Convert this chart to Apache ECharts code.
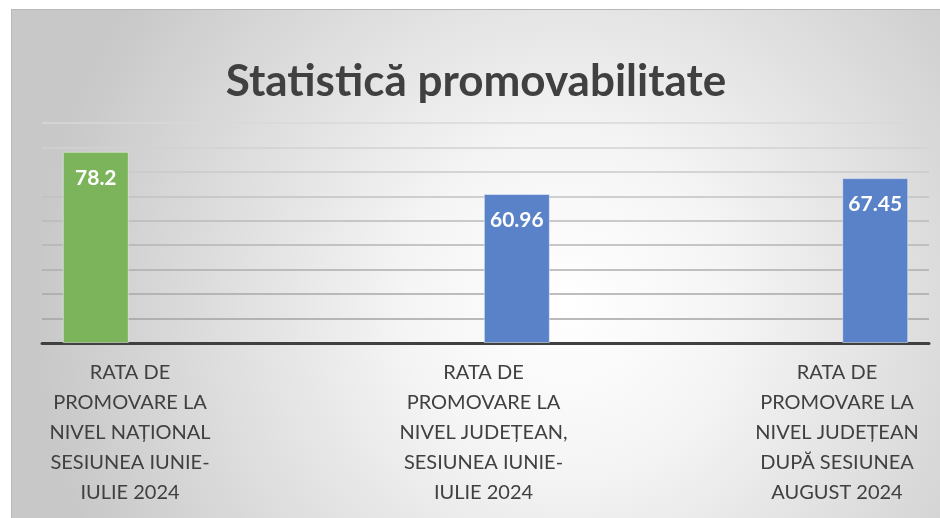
<!DOCTYPE html>
<html>
<head>
<meta charset="utf-8">
<script src="https://cdn.jsdelivr.net/npm/echarts@6/dist/echarts.min.js"></script>
<style>
  html, body { margin: 0; padding: 0; background: #ffffff; }
  .frame {
    position: absolute;
    left: 11px;
    top: 9px;
    border-top: 1px solid #b8b8b8;
    border-left: 1px solid #b8b8b8;
  }
  #chart { width: 928px; height: 508px; }
</style>
</head>
<body>
<div class="frame"><div id="chart"></div></div>
<script>
// category labels (line breaks as wrapped in the original)
const categories = [
  'RATA DE\nPROMOVARE LA\nNIVEL NAȚIONAL\nSESIUNEA IUNIE-\nIULIE 2024',
  'RATA DE\nPROMOVARE LA\nNIVEL JUDEȚEAN,\nSESIUNEA IUNIE-\nIULIE 2024',
  'RATA DE\nPROMOVARE LA\nNIVEL JUDEȚEAN\nDUPĂ SESIUNEA\nAUGUST 2024'
]
// promovabilitate (%)
const values = [78.2, 60.96, 67.45]
// column of the cluster each bar sits in (source sheet had an empty column)
const clusterSlot = [0, 2, 3]
const barColors = ['#7cb45c', '#5a82c8', '#5a82c8']

const myChart = echarts.init(document.getElementById('chart'))

const series = [0, 1, 2, 3].map((slot) => {
  return {
    type: 'bar',
    xAxisIndex: 0,
    yAxisIndex: 0,
    barWidth: 66,
    barGap: '-5%',
    itemStyle: { borderColor: 'rgba(255,255,255,0.45)', borderWidth: 1 },
    label: {
      show: true,
      position: 'insideTop',
      distance: 16,
      color: '#ffffff',
      fontFamily: 'Lato',
      fontWeight: 'bold',
      fontSize: 21
    },
    data: categories.map((c, i) => {
      if (clusterSlot[i] !== slot) return '-'
      return { value: values[i], itemStyle: { color: barColors[i] } }
    })
  }
})

const option = {
  backgroundColor: {
    type: 'radial',
    x: 0.6,
    y: 0.58,
    r: 1.05,
    colorStops: [
      { offset: 0, color: '#ffffff' },
      { offset: 0.3, color: '#f5f5f5' },
      { offset: 1, color: '#c8c8c8' }
    ]
  },
  animation: false,
  title: {
    text: 'Statistică promovabilitate',
    left: 'center',
    top: 45,
    textStyle: {
      fontFamily: 'Lato',
      fontWeight: 'bold',
      fontSize: 44,
      color: '#404040'
    }
  },
  grid: [
    { left: 30, right: 11, top: 113, bottom: 175 },
    { left: 118, right: 103, top: 113, bottom: 175 }
  ],
  xAxis: [
    {
      type: 'category',
      gridIndex: 0,
      data: categories,
      axisLine: { lineStyle: { color: '#404040', width: 3 } },
      axisTick: { show: false },
      axisLabel: { show: false }
    },
    {
      type: 'category',
      gridIndex: 1,
      data: categories,
      boundaryGap: false,
      axisLine: { show: false },
      axisTick: { show: false },
      axisLabel: {
        interval: 0,
        margin: 15,
        color: '#404040',
        fontFamily: 'Lato',
        fontSize: 20,
        lineHeight: 30,
        align: 'center'
      }
    }
  ],
  yAxis: [
    {
      type: 'value',
      gridIndex: 0,
      min: 0,
      max: 90,
      interval: 10,
      axisLine: { show: false },
      axisTick: { show: false },
      axisLabel: { show: false },
      splitLine: {
        lineStyle: {
          width: 1.5,
          color: ['#9c9c9c', '#a3a3a3', '#a8a8a8', '#aeaeae', '#b4b4b4', '#bababa', '#c2c2c2', '#cacaca', '#d2d2d2', '#d8d8d8']
        }
      }
    },
    {
      type: 'value',
      gridIndex: 1,
      show: false
    }
  ],
  series: series
}

myChart.setOption(option)
</script>
</body>
</html>
